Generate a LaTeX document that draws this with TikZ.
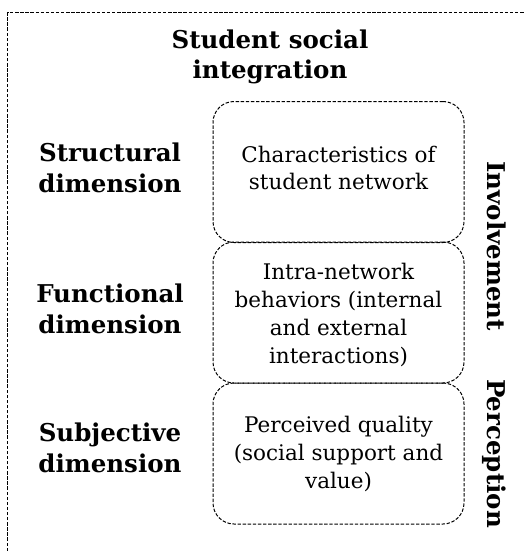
\documentclass[tikz,border=0pt]{standalone}
\usepackage{fontspec}
\setmainfont{DejaVu Serif}
\begin{document}
\begin{tikzpicture}[x=1pt,y=-1pt,
  dsh/.style={dash pattern=on 3.4pt off 1.7pt, line width=1pt},
  cell/.style={draw, dsh, rounded corners=21pt, minimum width=251pt, minimum height=141pt, inner sep=0pt},
  celltext/.style={align=center, inner sep=0pt, font=\fontsize{21.5}{27.8}\selectfont},
  lbl/.style={align=center, inner sep=0pt, font=\fontsize{24.5}{30.5}\selectfont\bfseries},
  side/.style={inner sep=0pt, anchor=base, rotate=-90, font=\fontsize{24.5}{30}\selectfont\bfseries}]
\useasboundingbox (0,0) rectangle (525,551);
\coordinate (fb) at (7.5,551);
\coordinate (fc) at (7.5,13);
\coordinate (fr) at (525,13);
\draw[dsh] (fb) -- (fc) -- (fr);
\node[lbl] (title) at (270,57) {Student social\\integration};
\node[cell] (b1) at (338.5,172) {};
\node[cell] (b2) at (338.5,312.5) {};
\node[cell] (b3) at (338.5,453.5) {};
\node[celltext] (t1) at (338.5,168) {Characteristics of\\student network};
\node[celltext] (t2) at (338.5,315) {Intra-network\\behaviors (internal\\and external\\interactions)};
\node[celltext] (t3) at (338.5,454) {Perceived quality\\(social support and\\value)};
\node[lbl] (d1) at (110,168) {Structural\\dimension};
\node[lbl] (d2) at (110,309) {Functional\\dimension};
\node[lbl] (d3) at (110,448) {Subjective\\dimension};
\node[side] (inv) at (487,246) {Involvement};
\node[side] (per) at (487,453.5) {Perception};
\end{tikzpicture}
\end{document}
